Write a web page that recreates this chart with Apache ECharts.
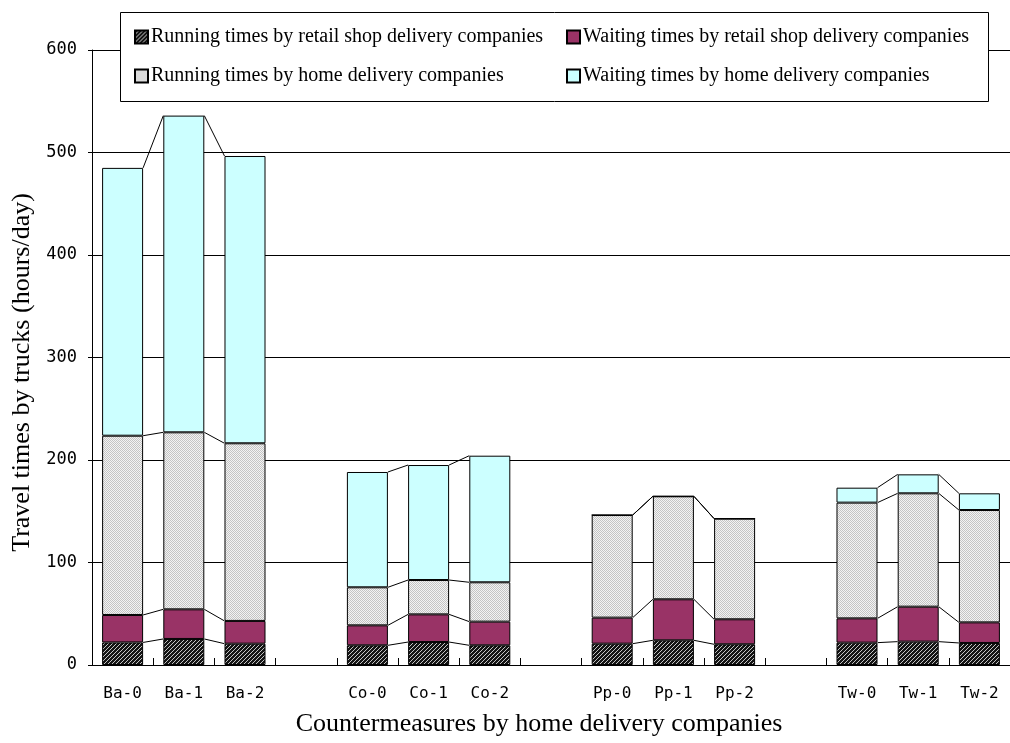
<!DOCTYPE html>
<html>
<head>
<meta charset="utf-8">
<script src="https://cdn.jsdelivr.net/npm/echarts@6/dist/echarts.min.js"></script>
<style>
  html, body { margin: 0; padding: 0; background: #fff; }
  #chart { width: 1010px; height: 743px; }
</style>
</head>
<body>
<div id="chart"></div>
<script>
// Countermeasure cases; empty strings leave a gap between company groups
const categories = ['Ba-0', 'Ba-1', 'Ba-2', '', 'Co-0', 'Co-1', 'Co-2', '', 'Pp-0', 'Pp-1', 'Pp-2', '', 'Tw-0', 'Tw-1', 'Tw-2'];

// Travel times (hours/day), stacked bottom to top
const runRetail  = [22.0, 25.4, 20.8, null, 19.2, 22.4, 19.2, null, 20.8, 24.1, 20.2, null, 21.8, 22.8, 21.5];
const waitRetail = [26.8, 28.9, 22.2, null, 19.5, 27.0, 23.1, null, 25.4, 40.0, 24.4, null, 23.7, 34.1, 20.1];
const runHome    = [174.9, 172.7, 173.3, null, 37.1, 33.5, 38.4, null, 100.1, 100.5, 98.2, null, 112.9, 110.6, 109.6];
const waitHome   = [261.3, 309.0, 280.3, null, 112.5, 112.2, 123.5, null, 0, 0, 0, null, 14.6, 18.5, 16.3];

const seriesNames = [
  'Running times by retail shop delivery companies',
  'Waiting times by retail shop delivery companies',
  'Running times by home delivery companies',
  'Waiting times by home delivery companies'
];

const yTicks = [0, 100, 200, 300, 400, 500, 600];

const BAR_RATIO = 0.67;

// Fill patterns
function hatchPattern() {
  const c = document.createElement('canvas');
  c.width = 4; c.height = 4;
  const g = c.getContext('2d');
  g.fillStyle = '#141414';
  g.fillRect(0, 0, 4, 4);
  g.fillStyle = '#c4c4c4';
  for (let k = 0; k < 4; k++) g.fillRect(k, 3 - k, 1, 1);
  return { image: c, repeat: 'repeat' };
}
function dotPattern() {
  const c = document.createElement('canvas');
  c.width = 2; c.height = 2;
  const g = c.getContext('2d');
  g.fillStyle = '#f3f3f3';
  g.fillRect(0, 0, 2, 2);
  g.fillStyle = '#c4c4c4';
  g.fillRect(0, 0, 1, 1);
  g.fillRect(1, 1, 1, 1);
  return { image: c, repeat: 'repeat' };
}

const fills = [hatchPattern(), '#993366', dotPattern(), '#ccffff'];
const layers = [runRetail, waitRetail, runHome, waitHome];

// Cumulative tops per category for the connector lines
function cumulative(i) {
  let s = 0;
  return layers.map(arr => (s += arr[i]));
}
const groupOf = categories.map(c => c ? c.split('-')[0] : null);
const connectorData = [];
for (let i = 0; i < categories.length - 1; i++) {
  if (groupOf[i] && groupOf[i] === groupOf[i + 1]) {
    connectorData.push([i, i + 1].concat(cumulative(i), cumulative(i + 1)));
  }
}

const serifFont = '"Liberation Serif", "Times New Roman", serif';
const monoFont = '"DejaVu Sans Mono", monospace';

const barSeries = layers.map((arr, k) => ({
  name: seriesNames[k],
  type: 'bar',
  stack: 'total',
  barWidth: (BAR_RATIO * 100) + '%',
  data: arr.map(v => v === null ? '-' : v),
  itemStyle: { color: fills[k], borderColor: '#000', borderWidth: 1 },
  z: 3
}));

const connectorSeries = {
  type: 'custom',
  silent: true,
  z: 2,
  data: connectorData,
  encode: { x: 0, y: 2 },
  renderItem: function (params, api) {
    const a = api.value(0), b = api.value(1);
    const half = api.size([1, 0])[0] * BAR_RATIO / 2;
    const children = [];
    for (let k = 0; k < 4; k++) {
      const p1 = api.coord([a, api.value(2 + k)]);
      const p2 = api.coord([b, api.value(6 + k)]);
      children.push({
        type: 'line',
        shape: { x1: p1[0] + half, y1: p1[1], x2: p2[0] - half, y2: p2[1] },
        style: { stroke: '#000', lineWidth: 1 }
      });
    }
    return { type: 'group', children: children };
  }
};

const legendCommon = {
  orient: 'vertical',
  top: 27,
  padding: 0,
  itemGap: 19,
  itemWidth: 13,
  itemHeight: 13,
  icon: 'rect',
  z: 10,
  selectedMode: true,
  textStyle: { fontFamily: serifFont, fontSize: 20, color: '#000', padding: [0, 0, 0, -2] }
};

const chart = echarts.init(document.getElementById('chart'), null, { renderer: 'canvas' });
chart.setOption({
  animation: false,
  backgroundColor: '#fff',
  grid: { left: 92, right: -2, top: 50, bottom: 78, containLabel: false },
  graphic: [{
    type: 'rect',
    z: 6,
    shape: { x: 120.5, y: 12.5, width: 868, height: 89 },
    style: { fill: '#fff', stroke: '#000', lineWidth: 1 }
  }],
  legend: [
    Object.assign({}, legendCommon, { left: 134, data: [seriesNames[0], seriesNames[2]] }),
    Object.assign({}, legendCommon, { left: 566, data: [seriesNames[1], seriesNames[3]] })
  ],
  xAxis: {
    type: 'category',
    data: categories,
    boundaryGap: true,
    name: 'Countermeasures by home delivery companies',
    nameLocation: 'middle',
    nameGap: 46,
    nameTextStyle: { fontFamily: serifFont, fontSize: 26, color: '#000', padding: [0, 24, 0, 0] },
    axisLine: { show: true, lineStyle: { color: '#000', width: 1 } },
    axisTick: { show: true, inside: true, length: 7, interval: 0, lineStyle: { color: '#000' } },
    axisLabel: { interval: 0, margin: 21, fontFamily: monoFont, fontSize: 16, color: '#000' },
    splitLine: { show: false }
  },
  yAxis: {
    type: 'value',
    min: yTicks[0],
    max: yTicks[yTicks.length - 1],
    interval: yTicks[1] - yTicks[0],
    name: 'Travel times by trucks (hours/day)',
    nameLocation: 'middle',
    nameGap: 56,
    nameTextStyle: { fontFamily: serifFont, fontSize: 26, color: '#000', padding: [0, 30, 0, 0] },
    axisLine: { show: true, lineStyle: { color: '#000', width: 1 } },
    axisTick: { show: true, length: 4, lineStyle: { color: '#000' } },
    axisLabel: { margin: 15, fontFamily: monoFont, fontSize: 17, color: '#000' },
    splitLine: { show: true, lineStyle: { color: '#000', width: 1 } }
  },
  series: barSeries.concat([connectorSeries])
});
</script>
</body>
</html>
